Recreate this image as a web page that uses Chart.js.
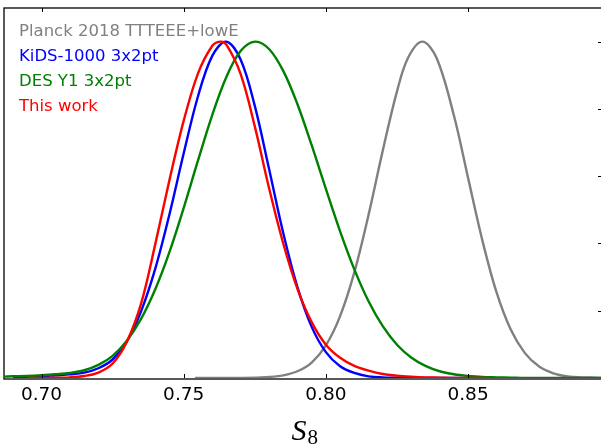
<!DOCTYPE html>
<html>
<head>
<meta charset="utf-8">
<script src="https://cdn.jsdelivr.net/npm/chart.js@4"></script>
<style>
  html, body { margin: 0; padding: 0; background: #ffffff; overflow: hidden; }
  #wrap { width: 610px; height: 446px; }
</style>
</head>
<body>
<div id="wrap"><canvas id="c" width="610" height="446"></canvas></div>
<script>
// S8 posteriors (peak-normalised)
const planckLabel = 'Planck 2018 TTTEEE+lowE';
const planckS8 = [0.754, 0.760, 0.765, 0.770, 0.775, 0.780, 0.785, 0.790, 0.795, 0.800, 0.805, 0.810, 0.815, 0.820, 0.825, 0.8289, 0.8339, 0.8389, 0.845, 0.850, 0.855, 0.860, 0.865, 0.870, 0.875, 0.880, 0.885, 0.890, 0.895, 0.898];
const planckP  = [0.000, 0.000, 0.000, 0.0003, 0.001, 0.003, 0.008, 0.020, 0.046, 0.097, 0.184, 0.314, 0.485, 0.676, 0.852, 0.952, 1.000, 0.952, 0.781, 0.595, 0.410, 0.255, 0.144, 0.074, 0.034, 0.014, 0.005, 0.002, 0.001, 0.000];

const kidsLabel = 'KiDS-1000 3x2pt';
const kidsS8 = [0.690, 0.695, 0.700, 0.705, 0.710, 0.715, 0.720, 0.725, 0.730, 0.735, 0.740, 0.745, 0.750, 0.755, 0.760, 0.7649, 0.770, 0.775, 0.780, 0.785, 0.790, 0.795, 0.800, 0.805, 0.810, 0.815, 0.820, 0.825, 0.830, 0.840, 0.850, 0.860];
const kidsP  = [0.002, 0.003, 0.005, 0.008, 0.011, 0.016, 0.029, 0.055, 0.108, 0.198, 0.325, 0.487, 0.668, 0.837, 0.957, 1.000, 0.947, 0.809, 0.622, 0.431, 0.270, 0.152, 0.077, 0.035, 0.015, 0.005, 0.002, 0.001, 0.000, 0.000, 0.000, 0.000];

const desLabel = 'DES Y1 3x2pt';
const desS8 = [0.686, 0.690, 0.695, 0.700, 0.705, 0.710, 0.715, 0.720, 0.725, 0.730, 0.735, 0.740, 0.745, 0.750, 0.755, 0.760, 0.765, 0.770, 0.7751, 0.780, 0.785, 0.790, 0.795, 0.800, 0.805, 0.810, 0.815, 0.820, 0.825, 0.830, 0.835, 0.840, 0.845, 0.850, 0.855, 0.860, 0.865, 0.870, 0.880, 0.890, 0.898];
const desP  = [0.004, 0.005, 0.006, 0.008, 0.011, 0.015, 0.023, 0.039, 0.066, 0.111, 0.176, 0.264, 0.375, 0.506, 0.646, 0.781, 0.895, 0.972, 1.000, 0.978, 0.913, 0.814, 0.692, 0.562, 0.436, 0.323, 0.228, 0.154, 0.099, 0.061, 0.036, 0.020, 0.011, 0.006, 0.003, 0.002, 0.001, 0.000, 0.000, 0.000, 0.000];

const thisLabel = 'This work';
const thisS8 = [0.695, 0.700, 0.705, 0.710, 0.715, 0.720, 0.725, 0.730, 0.735, 0.740, 0.745, 0.750, 0.755, 0.760, 0.7628, 0.765, 0.770, 0.775, 0.780, 0.785, 0.790, 0.795, 0.800, 0.805, 0.810, 0.815, 0.820, 0.825, 0.830, 0.835, 0.840, 0.845, 0.850, 0.857];
const thisP  = [0.000, 0.000, 0.001, 0.002, 0.006, 0.016, 0.043, 0.108, 0.221, 0.398, 0.589, 0.765, 0.905, 0.987, 1.000, 0.991, 0.904, 0.748, 0.565, 0.400, 0.265, 0.166, 0.099, 0.060, 0.036, 0.022, 0.012, 0.007, 0.004, 0.002, 0.001, 0.000, 0.000, 0.000];

const xTickValues = [0.70, 0.75, 0.80, 0.85];
const yTickValues = [0.2, 0.4, 0.6, 0.8, 1.0];
const xRange = [0.6868, 0.8971];
const yRange = [0, 1.1];

const pts = (xs, ys) => xs.map((x, i) => ({ x: x, y: ys[i] }));

function lineSet(label, xs, ys, color, order) {
  return {
    label: label,
    data: pts(xs, ys),
    borderColor: color,
    backgroundColor: color,
    borderWidth: 2.4,
    pointRadius: 0,
    fill: false,
    tension: 0.35,
    order: order
  };
}

// frame, inward tick marks, coloured-text legend and the S_8 axis title
const decor = {
  id: 'decor',
  beforeDatasetsDraw(chart) {
    const { ctx, chartArea: a } = chart;
    ctx.save();
    ctx.strokeStyle = '#000000';
    ctx.lineWidth = 1.3;
    ctx.strokeRect(a.left, a.top, a.right - a.left, a.bottom - a.top + 1);
    ctx.restore();
  },
  afterDraw(chart) {
    const { ctx, chartArea: a } = chart;
    const xs = chart.scales.x, ys = chart.scales.y;
    ctx.save();
    ctx.strokeStyle = '#000000';
    ctx.lineWidth = 1;
    const tl = 4;
    xTickValues.forEach(v => {
      const px = Math.round(xs.getPixelForValue(v)) + 0.5;
      ctx.beginPath();
      ctx.moveTo(px, a.top); ctx.lineTo(px, a.top + tl);
      ctx.moveTo(px, a.bottom); ctx.lineTo(px, a.bottom - tl);
      ctx.stroke();
    });
    yTickValues.forEach(v => {
      const py = Math.round(ys.getPixelForValue(v)) + 0.5;
      ctx.beginPath();
      ctx.moveTo(a.right, py); ctx.lineTo(a.right - tl, py);
      ctx.stroke();
    });

    // legend: labels written in their line colours, no markers
    ctx.font = '16.5px "DejaVu Sans"';
    ctx.textAlign = 'left';
    ctx.textBaseline = 'alphabetic';
    chart.data.datasets.forEach((ds, i) => {
      ctx.fillStyle = ds.borderColor;
      ctx.fillText(ds.label, 19, 36 + i * 24.9);
    });

    // axis title S_8
    ctx.fillStyle = '#000000';
    ctx.font = 'italic 30px "Liberation Serif"';
    const sW = ctx.measureText('S').width;
    ctx.font = '21px "Liberation Serif"';
    const eW = ctx.measureText('8').width;
    const x0 = 304.7 - (sW + eW + 1) / 2;
    ctx.font = 'italic 30px "Liberation Serif"';
    ctx.fillText('S', x0, 440);
    ctx.font = '21px "Liberation Serif"';
    ctx.fillText('8', x0 + sW + 1, 443.5);
    ctx.restore();
  }
};

new Chart(document.getElementById('c'), {
  type: 'line',
  data: {
    datasets: [
      lineSet(planckLabel, planckS8, planckP, '#808080', 3),
      lineSet(kidsLabel, kidsS8, kidsP, '#0000ff', 2),
      lineSet(desLabel, desS8, desP, '#008000', 1),
      lineSet(thisLabel, thisS8, thisP, '#ff0000', 0)
    ]
  },
  options: {
    responsive: false,
    devicePixelRatio: 1,
    animation: false,
    events: [],
    layout: { padding: { left: 4, top: 8, right: 8, bottom: 0 } },
    plugins: { legend: { display: false }, tooltip: { enabled: false } },
    scales: {
      x: {
        type: 'linear',
        min: xRange[0],
        max: xRange[1],
        afterBuildTicks: s => { s.ticks = xTickValues.map(v => ({ value: v })); },
        afterFit: s => { s.height = 68; },
        grid: { display: false, drawTicks: false },
        border: { display: false },
        ticks: {
          padding: 6,
          color: '#000000',
          maxRotation: 0,
          font: { family: 'DejaVu Sans', size: 18.5 },
          callback: v => Number(v).toFixed(2)
        }
      },
      y: {
        type: 'linear',
        min: yRange[0],
        max: yRange[1],
        display: false
      }
    }
  },
  plugins: [decor]
});
</script>
</body>
</html>
